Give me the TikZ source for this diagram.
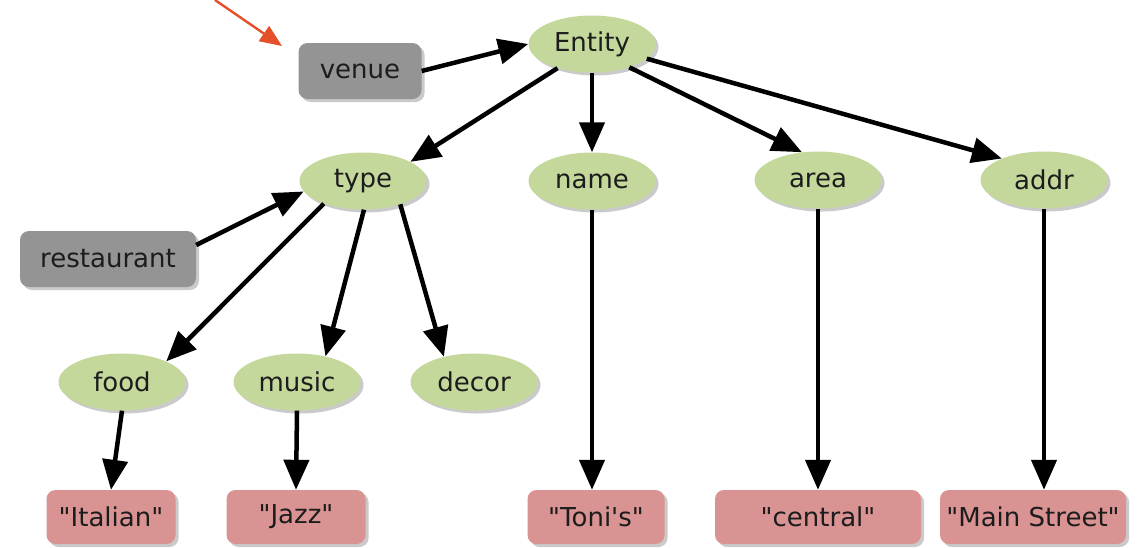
\documentclass[tikz,border=0pt]{standalone}
\usepackage{fontspec}
\setmainfont{DejaVu Sans}[Ligatures=TeXOff]
\usetikzlibrary{shapes.geometric,shadows,arrows.meta,calc}
\definecolor{attrgreen}{RGB}{197,216,155}
\definecolor{kindgray}{RGB}{148,148,148}
\definecolor{valpink}{RGB}{217,147,147}
\definecolor{inktext}{RGB}{28,28,28}
\definecolor{pointer}{RGB}{229,80,42}
% straight typewriter-style quotes
\newcommand{\dq}{\symbol{34}}
\newcommand{\sq}{\symbol{39}}
\tikzset{
  base/.style={font=\fontsize{26}{30}\selectfont, text=inktext, inner sep=0pt,
    drop shadow={shadow xshift=3pt, shadow yshift=-3pt, opacity=0.35, fill=black!60}},
  attr/.style={base, ellipse, fill=attrgreen, minimum width=127pt, minimum height=57pt},
  kind/.style={base, rectangle, rounded corners=9pt, fill=kindgray, minimum height=56pt},
  val/.style={base, rectangle, rounded corners=9pt, fill=valpink, minimum height=54pt},
  link/.style={line width=4.5pt, -{Triangle[length=30pt,width=25pt]}},
}
\begin{document}
\begin{tikzpicture}[x=1pt,y=-1pt]
\useasboundingbox (0,0) rectangle (1137,547);

% concept nodes
\node[attr] (entity) at (592,44)  {Entity};
\node[attr] (type)   at (363,181) {type};
\node[attr] (name)   at (592,181) {name};
\node[attr] (area)   at (818,180) {area};
\node[attr] (addr)   at (1044,180) {addr};
\node[attr] (food)   at (122,382) {food};
\node[attr] (music)  at (297,382) {music};
\node[attr] (decor)  at (474,382) {decor};

% category labels
\node[kind, minimum width=123pt] (venue) at (360,71) {venue};
\node[kind, minimum width=176pt] (rest)  at (108,259) {restaurant};

% literal values
\node[val, minimum width=129pt] (italian) at (111,517) {\dq Italian\dq};
\node[val, minimum width=139pt] (jazz)    at (296,517) {\dq Jazz\dq};
\node[val, minimum width=137pt] (tonis)   at (596,517) {\dq Toni\sq s\dq};
\node[val, minimum width=206pt] (central) at (818,517) {\dq central\dq};
\node[val, minimum width=186pt] (mainst)  at (1033,517) {\dq Main Street\dq};

% edges
\draw[link] (venue.east) -- (entity.west);
\draw[link] (entity.-145) -- (type.22);
\draw[link] (entity.south) -- (name.north);
\draw[link] (entity.-32) -- (area.120);
\draw[link] (entity.-15) -- (addr.153);
\draw[link] ($(rest.east)+(0,-14)$) -- (type.190);
\draw[link] (type.-150) -- (food.25);
\draw[link] (type.-88) -- (music.42);
\draw[link] (type.-32) -- (decor.140);
\draw[link] (food.south) -- (italian.north);
\draw[link] (music.south) -- (jazz.north);
\draw[link] (name.south) -- (tonis.north -| name.south);
\draw[link] (area.south) -- (central.north);
\draw[link] (addr.south) -- (mainst.north -| addr.south);

% pointer
\coordinate (ptail) at (215,0);
\coordinate (ptip) at (282,46);
\draw[pointer, line width=2.4pt, -{Triangle[length=22pt,width=18pt]}] (ptail) -- (ptip);
\end{tikzpicture}
\end{document}
